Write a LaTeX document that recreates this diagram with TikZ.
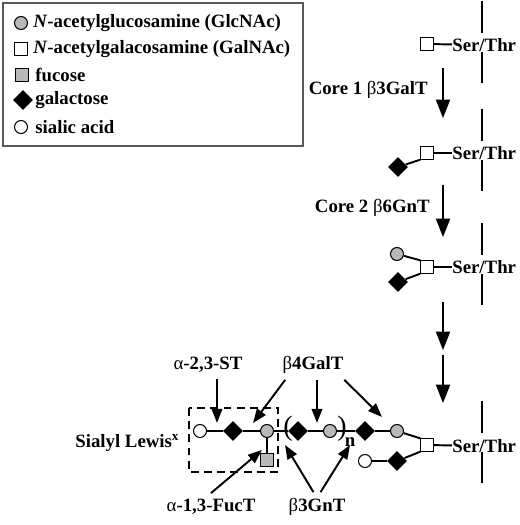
\documentclass[tikz,border=0pt]{standalone}
\usepackage{fontspec}
\setmainfont{Liberation Serif}
\usetikzlibrary{shapes.geometric,arrows.meta}

\begin{document}
\begin{tikzpicture}[x=0.02cm,y=-0.02cm,
  every node/.style={font=\fontsize{10.7}{12}\selectfont\bfseries},
  glcnac/.style={circle,draw,fill=gray!55,minimum size=7.4pt,inner sep=0pt,line width=0.6pt},
  galnac/.style={rectangle,draw,fill=white,minimum size=7pt,inner sep=0pt,line width=0.6pt},
  fuc/.style={rectangle,draw,fill=gray!55,minimum size=7.6pt,inner sep=0pt,line width=0.6pt},
  gal/.style={diamond,fill=black,minimum size=11.5pt,inner sep=0pt},
  sia/.style={circle,draw,fill=white,minimum size=7.4pt,inner sep=0pt,line width=0.6pt},
  bond/.style={line width=1.1pt},
  memb/.style={line width=1.3pt},
  stagearr/.style={line width=1.2pt,-{Triangle[width=8pt,length=10.5pt]}},
  enzarr/.style={line width=1.1pt,-{Triangle[width=6pt,length=8pt]}}]
  \useasboundingbox (0,0) rectangle (520,525);

  % Legend
  \draw[line width=0.8pt,gray!70!black] (3,3) rectangle (303,146);
  \node[glcnac] (lg1) at (21,23) {};
  \node[anchor=west,inner sep=0pt] (lt1) at (33,23) {\textit{N}-acetylglucosamine (GlcNAc)};
  \node[galnac,minimum size=7.4pt] (lg2) at (21,49) {};
  \node[anchor=west,inner sep=0pt] (lt2) at (33,49) {\textit{N}-acetylgalacosamine (GalNAc)};
  \node[fuc] (lg3) at (22,75) {};
  \node[anchor=west,inner sep=0pt] (lt3) at (35,75) {fucose};
  \node[gal] (lg4) at (23,100) {};
  \node[anchor=west,inner sep=0pt] (lt4) at (35,100) {galactose};
  \node[sia] (lg5) at (21,127) {};
  \node[anchor=west,inner sep=0pt] (lt5) at (35,127) {sialic acid};

  % Membrane
  \foreach \y in {45,153,267,445} {
    \draw[memb] (482,\y-44) -- (482,\y-12);
    \draw[memb] (482,\y+7) -- (482,\y+38);
  }

  % Stage 1
  \node[galnac] (s1) at (427,44) {};
  \node[anchor=west,inner sep=0pt] (st1) at (452,45) {Ser/Thr};
  \draw[bond] (s1) -- (st1);

  % Stage 2
  \node[galnac] (s2) at (427,153) {};
  \node[gal] (d2) at (398,167) {};
  \node[anchor=west,inner sep=0pt] (st2) at (452,153) {Ser/Thr};
  \draw[bond] (s2) -- (st2);
  \draw[bond] (d2) -- (s2.south west);

  % Stage 3
  \node[galnac] (s3) at (427,267) {};
  \node[glcnac] (c3) at (397,254) {};
  \node[gal] (d3) at (398,282) {};
  \node[anchor=west,inner sep=0pt] (st3) at (452,267) {Ser/Thr};
  \draw[bond] (s3) -- (st3);
  \draw[bond] (c3) -- (s3.north west);
  \draw[bond] (d3) -- (s3.south west);

  % Stage arrows
  \coordinate (a1s) at (443,68);  \coordinate (a1e) at (443,118);
  \coordinate (a2s) at (443,185); \coordinate (a2e) at (443,237);
  \coordinate (a3s) at (443,302); \coordinate (a3e) at (443,350);
  \coordinate (a4s) at (443,355); \coordinate (a4e) at (443,403);
  \draw[stagearr] (a1s) -- (a1e);
  \draw[stagearr] (a2s) -- (a2e);
  \draw[stagearr] (a3s) -- (a3e);
  \draw[stagearr] (a4s) -- (a4e);
  \node[anchor=east,inner sep=0pt] (core1) at (428,90) {Core 1 {\mdseries β}3GalT};
  \node[anchor=east,inner sep=0pt] (core2) at (430,208) {Core 2 {\mdseries β}6GnT};

  % Final structure
  \node[galnac] (s4) at (427,445) {};
  \node[anchor=west,inner sep=0pt] (st4) at (452,446) {Ser/Thr};
  \node[sia] (sia1) at (200,431) {};
  \node[gal] (gal1) at (233,431) {};
  \node[glcnac] (glc1) at (267,431) {};
  \node[fuc] (fuc1) at (267,460) {};
  \node[gal] (gal2) at (298,431) {};
  \node[glcnac] (glc2) at (330,431) {};
  \node[gal] (gal3) at (365,431) {};
  \node[glcnac] (glc3) at (397,431) {};
  \node[gal] (gal4) at (397,461) {};
  \node[sia] (sia2) at (365,461) {};
  \draw[bond] (s4) -- (st4);
  \draw[bond] (sia1) -- (gal1);
  \draw[bond] (gal1) -- (glc1);
  \draw[bond] (glc1) -- (fuc1);
  \draw[bond] (glc1) -- (gal2);
  \draw[bond] (gal2) -- (glc2);
  \draw[bond] (glc2) -- (gal3);
  \draw[bond] (gal3) -- (glc3);
  \draw[bond] (glc3) -- (s4.north west);
  \draw[bond] (sia2) -- (gal4);
  \draw[bond] (gal4) -- (s4.south west);
  \node[font=\fontsize{16}{16}\selectfont] (lpar) at (288,429) {(};
  \node[font=\fontsize{16}{16}\selectfont] (rpar) at (342,429) {)};
  \node[inner sep=0pt] (rep) at (350,442) {n};

  % Sialyl Lewis x
  \draw[dashed,line width=0.8pt,dash pattern=on 4.5pt off 3pt] (189,408) rectangle (278,472);
  \node[anchor=west,inner sep=0pt] (slx) at (75,443) {Sialyl Lewis\textsuperscript{x}};

  % Enzymes
  \node (st) at (208,365) {{\mdseries α}-2,3-ST};
  \node (galt) at (313,365) {{\mdseries β}4GalT};
  \node (gnt) at (317,507) {{\mdseries β}3GnT};
  \node (fuct) at (211,507) {{\mdseries α}-1,3-FucT};
  \coordinate (tST) at (217,423);
  \coordinate (tG1) at (253,423);
  \coordinate (tG2) at (317,423);
  \coordinate (tG3) at (382,417);
  \coordinate (tN1) at (285,445);
  \coordinate (tN2) at (350,445);
  \coordinate (tF) at (262,450);
  \draw[enzarr] (st.south -| tST) -- (tST);
  \draw[enzarr] ([xshift=5pt]galt.south west) -- (tG1);
  \draw[enzarr] (galt.south -| tG2) -- (tG2);
  \draw[enzarr] ([xshift=-3pt]galt.south east) -- (tG3);
  \draw[enzarr] ([xshift=-2pt]gnt.north) -- (tN1);
  \draw[enzarr] ([xshift=2pt]gnt.north) -- (tN2);
  \draw[enzarr] (fuct.north) -- (tF);
\end{tikzpicture}
\end{document}
